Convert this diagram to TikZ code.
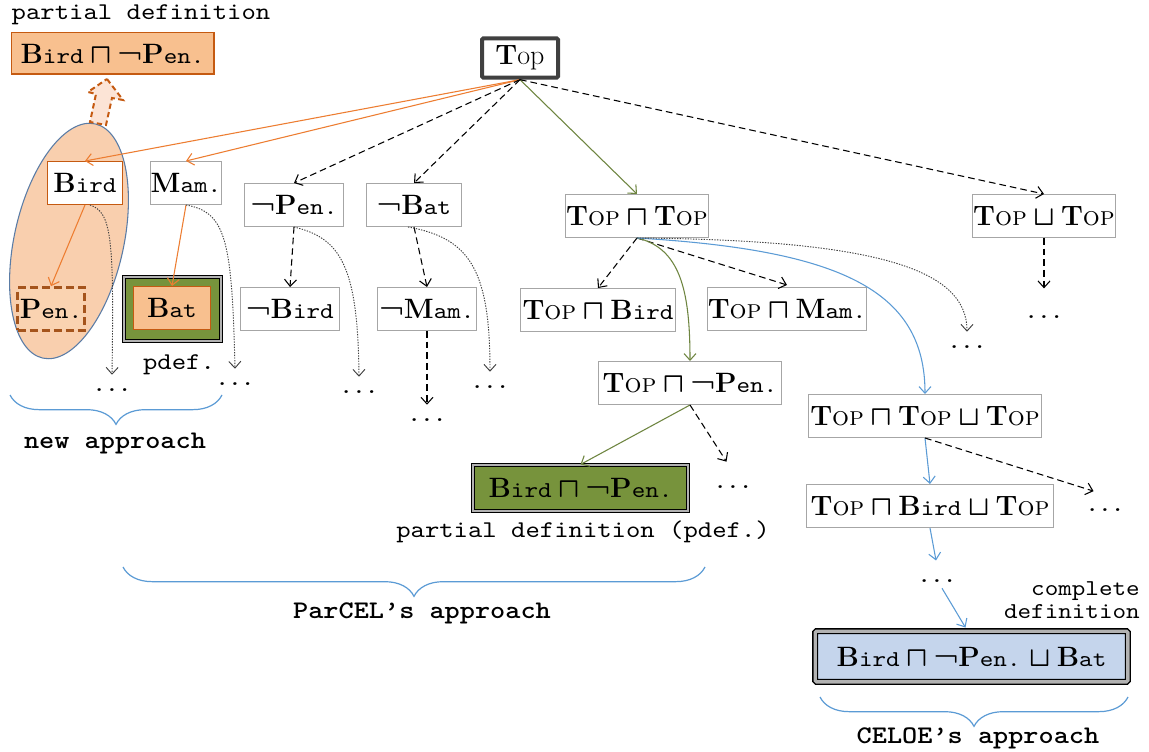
\documentclass[tikz,border=0pt]{standalone}
\usepackage{fontspec}
\setmonofont{lmmono10-regular}[Extension=.otf, BoldFont=lmmonolt10-bold, FakeStretch=1.14]
\usetikzlibrary{arrows.meta,decorations.pathreplacing,calc}
\definecolor{orgline}{HTML}{ED7D31}
\definecolor{orgdark}{HTML}{C55A11}
\definecolor{orgfill}{HTML}{F8C08F}
\definecolor{ellfill}{HTML}{F9CFAE}
\definecolor{arrfill}{HTML}{FCE4D6}
\definecolor{penline}{HTML}{A5541C}
\definecolor{olive}{HTML}{6E8540}
\definecolor{greenfill}{HTML}{77933C}
\definecolor{bluel}{HTML}{5B9BD5}
\definecolor{bluefill}{HTML}{C5D5EC}
\definecolor{ellline}{HTML}{5A7CA6}
\definecolor{boxgray}{HTML}{A6A6A6}
\definecolor{topgray}{HTML}{404040}
\newcommand{\mycn}[2]{{\fontsize{21}{22}\selectfont\rmfamily\bfseries #1}{\fontsize{17}{18}\selectfont\ttfamily #2}}
\newcommand{\myTop}{{\fontsize{21}{22}\selectfont\rmfamily\textbf{T}{\fontsize{20}{20}\selectfont\textsc{op}}}}
\newcommand{\myMeet}{{\fontsize{21}{22}\selectfont\boldmath$\sqcap$}}
\newcommand{\myJoin}{{\fontsize{21}{22}\selectfont\boldmath$\sqcup$}}
\newcommand{\myNeg}{{\fontsize{21}{22}\selectfont\rmfamily\bfseries ¬}}
\begin{document}
\begin{tikzpicture}[x=0.75pt,y=-0.75pt,
  every node/.style={font=\fontsize{16}{18}\selectfont},
  box/.style={draw=boxgray, line width=1pt, fill=white, inner sep=0pt, minimum height=32pt},
  arr/.style={-{Straight Barb[length=5pt,width=9pt]}, line width=0.8pt},
  dsh/.style={arr, black, dash pattern=on 5pt off 3pt},
  dtt/.style={arr, black!75, line width=0.7pt, dash pattern=on 1pt off 1pt},
  org/.style={arr, orgline},
  olv/.style={arr, olive},
  blu/.style={arr, bluel},
  dotnode/.style={inner sep=0pt, anchor=base, text height=12pt, text depth=0pt, font=\fontsize{16}{18}\selectfont\ttfamily\bfseries},
  lbl/.style={inner sep=0pt, font=\fontsize{18}{20}\selectfont\ttfamily},
  blbl/.style={inner sep=0pt, font=\fontsize{19}{21}\selectfont\ttfamily\bfseries},
  brc/.style={decorate, decoration={brace, mirror, amplitude=22pt}, bluel, line width=0.9pt},
  dbl/.style={draw=black, line width=0.8pt, double=gray!60, double distance=1.5pt, inner sep=0pt}
]
\path[use as bounding box, fill=white] (0,0) rectangle (1149,752);

% ellipse and block arrow
\filldraw[fill=ellfill, draw=ellline, line width=0.8pt, rotate around={-12.6:(69,241)}]
  (69,241) ellipse [x radius=41pt, y radius=90pt];
\filldraw[fill=arrfill, draw=orgdark, line width=1.5pt, dash pattern=on 4pt off 2.5pt, line join=miter]
  (107,79) -- (123,100) -- (112,98) -- (106,125) -- (90,122) -- (96,94) -- (88,92) -- cycle;

% labels
\node[lbl] (pdtop) at (141,15) {partial definition};
\node[box, draw=orgdark, fill=orgfill, minimum width=152pt, minimum height=31pt] (topdef) at (112.5,53.5)
  {\mycn{B}{ird} \myMeet{} \myNeg\mycn{P}{en.}};

% left nodes
\node[box, draw=orgdark, minimum width=56.5pt] (bird) at (85,183) {\mycn{B}{ird}};
\node[box, minimum width=50pt] (mam) at (186,183) {\mycn{M}{am.}};
\node[box, draw=penline, fill=orgfill!70!white, line width=2.2pt, dash pattern=on 6pt off 3pt, minimum width=50pt, minimum height=32pt] (pen) at (51,309) {\mycn{P}{en.}};
\node[dbl, fill=greenfill, minimum width=72.5pt, minimum height=48pt] (batout) at (172.5,309) {};
\node[box, draw=orgdark, fill=orgfill, minimum width=57.5pt, minimum height=32pt] (bat) at (172,308) {\mycn{B}{at}};
\node[lbl] (pdefa) at (179,365) {pdef.};

\node[box, minimum width=74.5pt] (npen) at (294,205) {\myNeg\mycn{P}{en.}};
\node[box, minimum width=71.5pt] (nbat) at (414,205) {\myNeg\mycn{B}{at}};
\node[box, minimum width=74pt] (nbird) at (290,309) {\myNeg\mycn{B}{ird}};
\node[box, minimum width=74.5pt] (nmam) at (427,309) {\myNeg\mycn{M}{am.}};

% top and right nodes
\node[draw=topgray, line width=3pt, rounded corners=1pt, fill=white, inner sep=0pt, minimum width=57pt, minimum height=29.5pt] (top) at (520,58)
  {{\fontsize{21}{22}\selectfont\rmfamily\textbf{T}op}};
\node[box, minimum width=107.5pt] (tt) at (637,216) {\myTop{} \myMeet{} \myTop};
\node[box, minimum width=107.5pt] (tu) at (1044,216) {\myTop{} \myJoin{} \myTop};
\node[box, minimum width=116pt] (ttbird) at (598,310) {\myTop{} \myMeet{} \mycn{B}{ird}};
\node[box, minimum width=116pt] (ttmam) at (787,309) {\myTop{} \myMeet{} \mycn{M}{am.}};
\node[box, minimum width=137pt] (ttnpen) at (690,383) {\myTop{} \myMeet{} \myNeg\mycn{P}{en.}};
\node[box, minimum width=175pt] (ttt) at (925,416) {\myTop{} \myMeet{} \myTop{} \myJoin{} \myTop};
\node[dbl, fill=greenfill, minimum width=161pt, minimum height=34.5pt] (pdefbox) at (580.5,488)
  {\mycn{B}{ird} \myMeet{} \myNeg\mycn{P}{en.}};
\node[lbl] (pdefb) at (583,532) {partial definition (pdef.)};
\node[box, minimum width=185pt] (ttbt) at (930,506) {\myTop{} \myMeet{} \mycn{B}{ird} \myJoin{} \myTop};
\node[dbl, line width=1pt, double distance=2.5pt, rounded corners=1pt, fill=bluefill, minimum width=234.5pt, minimum height=38pt] (final) at (971.5,656.5)
  {\mycn{B}{ird} \myMeet{} \myNeg\mycn{P}{en.} \myJoin{} \mycn{B}{at}};
\node[lbl, font=\fontsize{17}{18}\selectfont\ttfamily, align=right, anchor=east] (compl) at (1140,600) {complete\\[-1pt]definition};

% dots
\node[dotnode] (dA) at (112,391) {...};
\node[dotnode] (dB) at (235,385) {...};
\node[dotnode] (dC) at (359,393) {...};
\node[dotnode] (dD) at (427,421) {...};
\node[dotnode] (dE) at (490,388) {...};
\node[dotnode] (dF) at (967,348) {...};
\node[dotnode] (dG) at (1044,318) {...};
\node[dotnode] (dH) at (733,488) {...};
\node[dotnode] (dI) at (1105,511) {...};
\node[dotnode] (dJ) at (937,582) {...};

% connectors from top
\draw[org] (top.south) -- (bird.north);
\draw[org] (top.south) -- (mam.north);
\draw[dsh] (top.south) -- (npen.north);
\draw[dsh] (top.south) -- (nbat.north);
\draw[olv] (top.south) -- (tt.north);
\draw[dsh] (top.south) -- (tu.north);

% left subtree
\draw[org] (bird.south) -- (pen.north);
\draw[dtt] ($(bird.south)+(5,0)$) .. controls (112,212) and (114,240) .. (dA.north);
\draw[org] (mam.south) -- (bat.north);
\draw[dtt] (mam.south) .. controls (226,212) and (232,240) .. (dB.north);
\draw[dsh] (npen.south) -- (nbird.north);
\draw[dtt] (npen.south) .. controls (340,238) and (358,265) .. (dC.north);
\draw[dsh] (nbat.south) -- (nmam.north);
\draw[dtt] ($(nbat.south)+(-6,0)$) .. controls (470,238) and (490,270) .. (dE.north);
\draw[dsh] (nmam.south) -- (dD.north);

% middle subtree
\draw[dsh] (tt.south) -- (ttbird.north);
\draw[dsh] (tt.south) -- ($(ttmam.north)+(0,-2)$);
\draw[olv] (tt.south) .. controls (680,248) and (690,290) .. (ttnpen.north);
\draw[blu] (tt.south) .. controls (840,250) and (925,290) .. (ttt.north);
\draw[dtt] (tt.south) .. controls (880,240) and (967,270) .. (dF.north);
\draw[dsh, shorten >=10pt] (tu.south) -- (dG.north);
\draw[olv] (ttnpen.south) -- (pdefbox.north);
\draw[dsh, shorten >=9pt] (ttnpen.south) -- (dH.north);

% right subtree
\draw[blu] (ttt.south) -- (ttbt.north);
\draw[dsh, shorten >=9pt] (ttt.south) -- (dI.north);
\draw[blu, shorten >=4pt] (ttbt.south) -- (dJ.north);
\draw[blu] ($(dJ.south)+(5,6)$) -- ($(final.north)+(-6,-3)$);

% braces
\draw[brc] (10,395) -- (222,395);
\node[blbl] (newapp) at (115,443) {new approach};
\draw[brc] (123,567) -- (705,567);
\node[blbl] (parcel) at (422,613) {ParCEL’s approach};
\draw[brc] (820,697) -- (1128,697);
\node[blbl] (celoe) at (978,738) {CELOE’s approach};
\end{tikzpicture}
\end{document}
